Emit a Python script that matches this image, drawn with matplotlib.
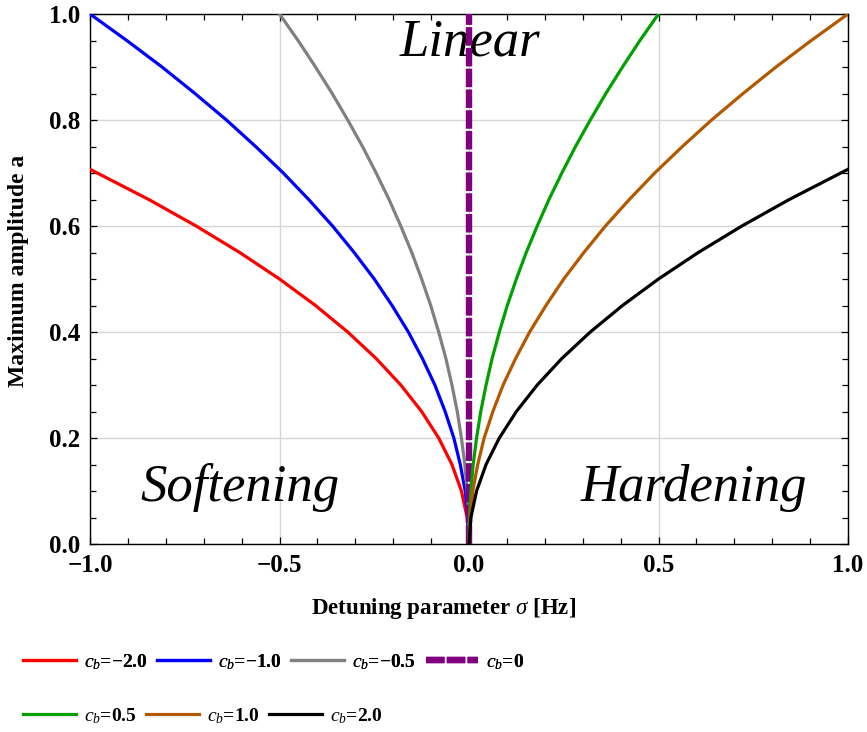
import matplotlib
matplotlib.use("Agg")
import matplotlib.pyplot as plt
from matplotlib.ticker import MultipleLocator, FuncFormatter

# amplitude vs detuning (backbone curves)
AMP_FULL = [0.0, 0.05, 0.1, 0.15, 0.2, 0.25, 0.3, 0.35, 0.4, 0.45, 0.5,
            0.55, 0.6, 0.65, 0.7, 0.75, 0.8, 0.85, 0.9, 0.95, 1.0]
AMP_SHORT = [0.0, 0.05, 0.1, 0.15, 0.2, 0.25, 0.3, 0.35, 0.4, 0.45, 0.5,
             0.55, 0.6, 0.65, 0.707]

SIG_M20 = [0.0, -0.005, -0.02, -0.045, -0.08, -0.125, -0.18, -0.245, -0.32, -0.405,
           -0.5, -0.605, -0.72, -0.845, -1.0]
SIG_M10 = [0.0, -0.003, -0.01, -0.023, -0.04, -0.063, -0.09, -0.123, -0.16, -0.203, -0.25,
           -0.303, -0.36, -0.423, -0.49, -0.563, -0.64, -0.723, -0.81, -0.903, -1.0]
SIG_M05 = [0.0, -0.001, -0.005, -0.011, -0.02, -0.031, -0.045, -0.061, -0.08, -0.101, -0.125,
           -0.151, -0.18, -0.211, -0.245, -0.281, -0.32, -0.361, -0.405, -0.451, -0.5]
SIG_0 = [0.0, 0.0]
AMP_0 = [0.0, 1.0]
SIG_P05 = [0.0, 0.001, 0.005, 0.011, 0.02, 0.031, 0.045, 0.061, 0.08, 0.101, 0.125,
           0.151, 0.18, 0.211, 0.245, 0.281, 0.32, 0.361, 0.405, 0.451, 0.5]
SIG_P10 = [0.0, 0.003, 0.01, 0.023, 0.04, 0.063, 0.09, 0.123, 0.16, 0.203, 0.25,
           0.303, 0.36, 0.423, 0.49, 0.563, 0.64, 0.723, 0.81, 0.903, 1.0]
SIG_P20 = [0.0, 0.005, 0.02, 0.045, 0.08, 0.125, 0.18, 0.245, 0.32, 0.405,
           0.5, 0.605, 0.72, 0.845, 1.0]

LABELS = ["−2.0", "−1.0", "−0.5", "0", "0.5", "1.0", "2.0"]
COLORS = ["#ff0000", "#0000ff", "#808080", "#800080", "#00a000", "#b25900", "#000000"]


def setup_style():
    plt.rcParams.update(
        {
            "font.family": ["Liberation Serif", "DejaVu Serif"],
            "font.weight": "bold",
            "mathtext.fontset": "custom",
            "mathtext.rm": "Liberation Serif:weight=normal",
            "mathtext.it": "Liberation Serif:style=italic:weight=normal",
            "mathtext.bf": "Liberation Serif:weight=bold",
        }
    )


def fmt(v, pos):
    return f"{v:.1f}".replace("-", "\u2212")


def main():
    setup_style()
    fig = plt.figure(figsize=(8.67, 7.32), dpi=100)
    ax = fig.add_axes([90 / 867, 1 - 544 / 732, 758 / 867, 530 / 732])

    series = [
        (SIG_M20, AMP_SHORT), (SIG_M10, AMP_FULL), (SIG_M05, AMP_FULL), (SIG_0, AMP_0),
        (SIG_P05, AMP_FULL), (SIG_P10, AMP_FULL), (SIG_P20, AMP_SHORT),
    ]
    handles = []
    for (x, y), lab, col in zip(series, LABELS, COLORS):
        if lab == "0":
            h, = ax.plot(x, y, color=col, lw=4.6, ls=(0, (2.9, 0.35)),
                         solid_capstyle="butt", dash_capstyle="butt",
                         label=r"$c_b$=" + lab, zorder=3, clip_on=False)
        else:
            h, = ax.plot(x, y, color=col, lw=2.3, label=r"$c_b$=" + lab, zorder=3)
        handles.append(h)

    ax.set_xlim(-1, 1)
    ax.set_ylim(0, 1)
    ax.xaxis.set_major_locator(MultipleLocator(0.5))
    ax.xaxis.set_minor_locator(MultipleLocator(0.1))
    ax.yaxis.set_major_locator(MultipleLocator(0.2))
    ax.yaxis.set_minor_locator(MultipleLocator(0.05))
    ax.xaxis.set_major_formatter(FuncFormatter(fmt))
    ax.yaxis.set_major_formatter(FuncFormatter(fmt))
    ax.tick_params(which="both", direction="in", top=True, right=True, width=0.9)
    ax.tick_params(which="major", length=5, labelsize=18)
    ax.tick_params(which="minor", length=4)
    ax.tick_params(axis="x", which="major", pad=7)
    ax.tick_params(axis="y", which="major", pad=7)
    for lbl in ax.get_xticklabels() + ax.get_yticklabels():
        lbl.set_fontweight("bold")
    for sp in ax.spines.values():
        sp.set_linewidth(1.0)
    ax.grid(True, which="major", color="#d6d6d6", lw=1.0, zorder=0)

    ax.set_xlabel(r"Detuning parameter $\sigma$ [Hz]", fontsize=16.5, fontweight="bold")
    ax.xaxis.set_label_coords((444 - 90) / 758, -(596 - 544) / 530)
    ax.set_ylabel("Maximum amplitude a", fontsize=17, fontweight="bold")
    ax.yaxis.set_label_coords(-(90 - 29) / 758, (544 - 271) / 530)

    ax.text(0.003, 0.947, "Linear", fontsize=38, style="italic", fontweight="normal",
            ha="center", va="center", zorder=2)
    ax.text(-0.604, 0.106, "Softening", fontsize=38, style="italic", fontweight="normal",
            ha="center", va="center", zorder=2)
    ax.text(0.594, 0.106, "Hardening", fontsize=38, style="italic", fontweight="normal",
            ha="center", va="center", zorder=2)

    common = dict(frameon=False, fontsize=14, handlelength=2.7, handletextpad=0.42,
                  columnspacing=0.5, borderpad=0, borderaxespad=0, loc="center left")
    leg1 = fig.legend(handles=handles[:4], ncol=4, bbox_to_anchor=(23 / 867, 1 - 662 / 732), **common)
    fig.legend(handles=handles[4:], ncol=3, bbox_to_anchor=(23 / 867, 1 - 716 / 732), **common)
    fig.add_artist(leg1)

    fig.savefig("out.png", dpi=100)
    plt.close(fig)


if __name__ == "__main__":
    main()
